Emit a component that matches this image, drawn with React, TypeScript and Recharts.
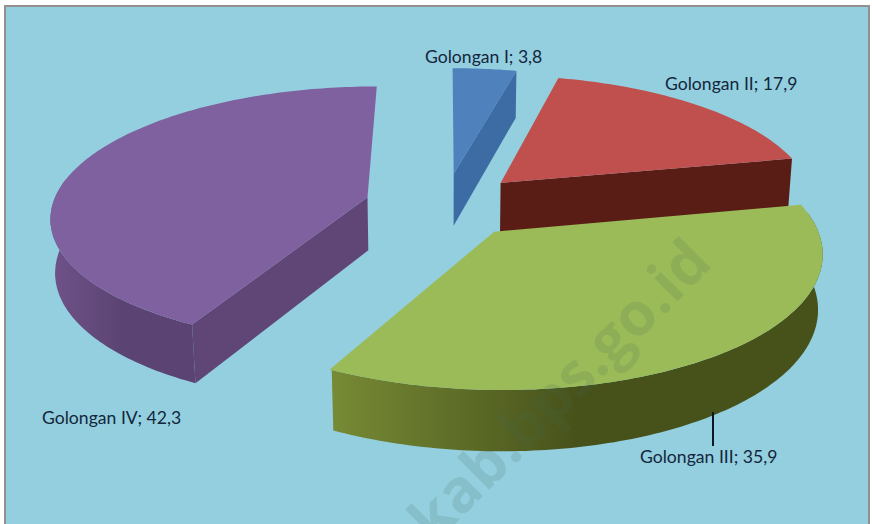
import { PieChart, Pie } from "recharts";

const categories = ["Golongan I", "Golongan II", "Golongan III", "Golongan IV"];
const values = [3.8, 17.9, 35.9, 42.3];
const valueLabels = ["3,8", "17,9", "35,9", "42,3"];

const topColors = ["#4f81bd", "#c0504d", "#9bbb59", "#8061a0"];
const sideColors = ["#3d6ba3", "#5a1d16", "#4d5a1e", "#5f4677"];
const wallStops = [
  ["#3d6ba3", "#3d6ba3"],
  ["#5a1d16", "#5a1d16"],
  ["#778a35", "#47521b"],
  ["#6f5289", "#5b4473"],
];
const labelSpots = [
  { x: 425, y: 63 },
  { x: 665, y: 90 },
  { x: 640, y: 463 },
  { x: 42, y: 424 },
];

const data = categories.map((name, i) => ({ name, value: values[i], text: valueLabels[i] }));

// fake 3D: flat pie circle -> screen, with a bit of perspective
const EXPLODE = 80;
const TILT = 0.407;
const PERSP = 0.00044;
const PERSP_DEPTH = 0.00022;
const THICK = 54;
const RAD = Math.PI / 180;

function project(cx: number, cy: number, x: number, yUp: number, z: number) {
  const front = -yUp;
  const s = 1 / (1 - front * PERSP + z * PERSP_DEPTH);
  return [cx + x * s, cy + (front * TILT + z) * s];
}

function toPath(points: number[][]) {
  return "M" + points.map((p) => p[0].toFixed(1) + "," + p[1].toFixed(1)).join("L") + "Z";
}

function Slice3D(props: any) {
  const { cx, cy, outerRadius, startAngle, endAngle, midAngle, index } = props;
  const a0 = Math.max(startAngle, endAngle);
  const a1 = Math.min(startAngle, endAngle);
  const mid = midAngle ?? (a0 + a1) / 2;
  const ox = EXPLODE * Math.cos(mid * RAD);
  const oy = EXPLODE * Math.sin(mid * RAD);
  const rim = (a: number, z: number) =>
    project(cx, cy, ox + outerRadius * Math.cos(a * RAD), oy + outerRadius * Math.sin(a * RAD), z);
  const apex = (z: number) => project(cx, cy, ox, oy, z);

  const top = [apex(0)];
  const wallAngles: number[] = [];
  for (let a = a0; a >= a1; a -= 1) {
    top.push(rim(a, 0));
    if (Math.sin(a * RAD) < 0.15) wallAngles.push(a);
  }
  top.push(rim(a1, 0));

  const wall = [
    ...wallAngles.map((a) => rim(a, 0)),
    ...wallAngles.slice().reverse().map((a) => rim(a, THICK)),
  ];
  const showEnd = Math.cos(a1 * RAD) > 0.01;
  const showStart = -Math.cos(a0 * RAD) > 0.01;
  const gradId = "wall" + index;
  const wallXs = wall.map((p) => p[0]);

  return (
    <g>
      <defs>
        <linearGradient
          id={gradId}
          gradientUnits="userSpaceOnUse"
          x1={wallXs.length ? Math.min(...wallXs) : 0}
          x2={wallXs.length ? Math.min(...wallXs) + (Math.max(...wallXs) - Math.min(...wallXs)) * 0.5 : 1}
          y1={0}
          y2={0}
        >
          <stop offset="0" stopColor={wallStops[index][0]} />
          <stop offset="1" stopColor={wallStops[index][1]} />
        </linearGradient>
      </defs>
      {showStart && (
        <path d={toPath([apex(0), rim(a0, 0), rim(a0, THICK), apex(THICK)])} fill={sideColors[index]} />
      )}
      {showEnd && (
        <path d={toPath([apex(0), rim(a1, 0), rim(a1, THICK), apex(THICK)])} fill={sideColors[index]} />
      )}
      {wall.length > 0 && <path d={toPath(wall)} fill={"url(#" + gradId + ")"} />}
      <path d={toPath(top)} fill={topColors[index]} />
    </g>
  );
}

function SliceLabel(props: any) {
  const { index, name, text } = props;
  const spot = labelSpots[index];
  return (
    <g>
      {index === 2 && <line x1={713} y1={412} x2={713} y2={446} stroke="#0b1626" strokeWidth={2} />}
      <text x={spot.x} y={spot.y} fontFamily="Lato" fontSize={17.6} fill="#14263c">
        {name + "; " + (text ?? props.payload?.text)}
      </text>
    </g>
  );
}

export default function App() {
  return (
    <div style={{ position: "absolute", left: 0, top: 0, width: 872, height: 524, background: "#fff", overflow: "hidden" }}>
      <div
        style={{
          position: "absolute",
          left: 4,
          top: 5,
          width: 866,
          height: 519,
          boxSizing: "border-box",
          background: "#93cfdf",
          borderLeft: "2px solid #968f8f",
          borderTop: "2px solid #968f8f",
          borderRight: "2px solid #968f8f",
        }}
      />
      <div style={{ position: "absolute", left: 0, top: 0 }}>
        <PieChart width={872} height={524}>
          <Pie
            data={data}
            dataKey="value"
            nameKey="name"
            cx={439.5}
            cy={200}
            outerRadius={315}
            startAngle={90}
            endAngle={-270}
            stroke="none"
            shape={Slice3D}
            label={SliceLabel}
            labelLine={false}
            isAnimationActive={false}
          />
        </PieChart>
      </div>
      <svg width={872} height={524} style={{ position: "absolute", left: 0, top: 0, pointerEvents: "none" }}>
        <text
          transform="translate(714,265) rotate(-45)"
          textAnchor="end"
          fontFamily="Open Sans"
          fontWeight={700}
          fontSize={60}
          fill="#446c50"
          opacity={0.15}
        >
          kab.bps.go.id
        </text>
      </svg>
    </div>
  );
}
